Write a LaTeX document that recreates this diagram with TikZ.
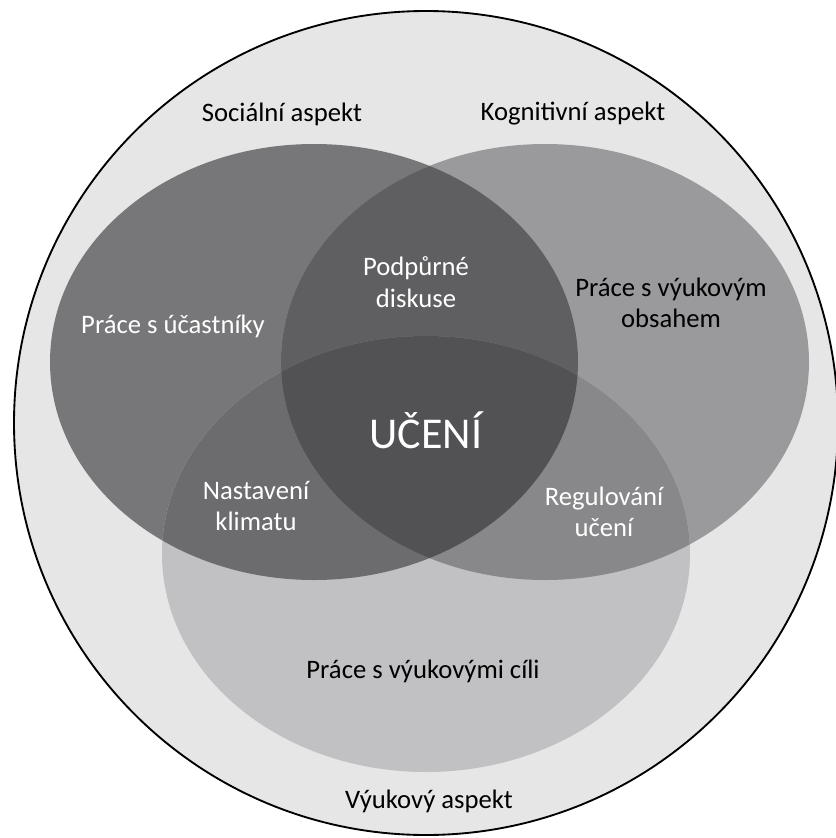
\documentclass[tikz,border=0pt]{standalone}
\usepackage{fontspec}
\setmainfont{Carlito}
\definecolor{outerc}{HTML}{E6E6E6}
\definecolor{lc}{HTML}{77777A}
\definecolor{rc}{HTML}{9A9A9D}
\definecolor{bc}{HTML}{C1C1C3}
\definecolor{lrc}{HTML}{5F5F62}
\definecolor{lbc}{HTML}{6C6C6F}
\definecolor{rbc}{HTML}{88888B}
\definecolor{lrbc}{HTML}{525255}
\tikzset{
  lbl/.style={font=\fontsize{20}{23.5}\selectfont, align=center, inner sep=0pt},
  wlbl/.style={lbl, text=white},
  blbl/.style={lbl, text=black},
}
\begin{document}
\begin{tikzpicture}[x=0.75pt,y=-0.75pt]
\useasboundingbox (0,0) rectangle (835,838);
\def\ellL{(314,362) ellipse [x radius=264, y radius=218]}
\def\ellR{(545,362) ellipse [x radius=264, y radius=218]}
\def\ellB{(426,554) ellipse [x radius=264, y radius=218]}
% outer circle
\draw[fill=outerc, line width=1.4pt] (426,423) circle [radius=412];
% single ellipses
\fill[lc] \ellL;
\fill[rc] \ellR;
\fill[bc] \ellB;
% pairwise overlaps
\begin{scope}
  \clip \ellL; \fill[lrc] \ellR;
\end{scope}
\begin{scope}
  \clip \ellL; \fill[lbc] \ellB;
\end{scope}
\begin{scope}
  \clip \ellR; \fill[rbc] \ellB;
\end{scope}
\begin{scope}
  \clip \ellL; \clip \ellR; \fill[lrbc] \ellB;
\end{scope}
% labels
\node[blbl] (soc) at (282,114) {Sociální aspekt};
\node[blbl] (kog) at (573,114) {Kognitivní aspekt};
\node[blbl] (vyu) at (429,801) {Výukový aspekt};
\node[wlbl] (ucast) at (173,326) {Práce s účastníky};
\node[wlbl] (podp) at (416,282) {Podpůrné\\diskuse};
\node[blbl] (obsah) at (671,303) {Práce s výukovým\\obsahem};
\node[wlbl, font=\fontsize{33}{36}\selectfont] (uceni) at (426,430) {UČENÍ};
\node[wlbl] (klima) at (256,506) {Nastavení\\klimatu};
\node[wlbl] (regul) at (604,512) {Regulování\\učení};
\node[blbl] (cile) at (423,671) {Práce s výukovými cíli};
\end{tikzpicture}
\end{document}
